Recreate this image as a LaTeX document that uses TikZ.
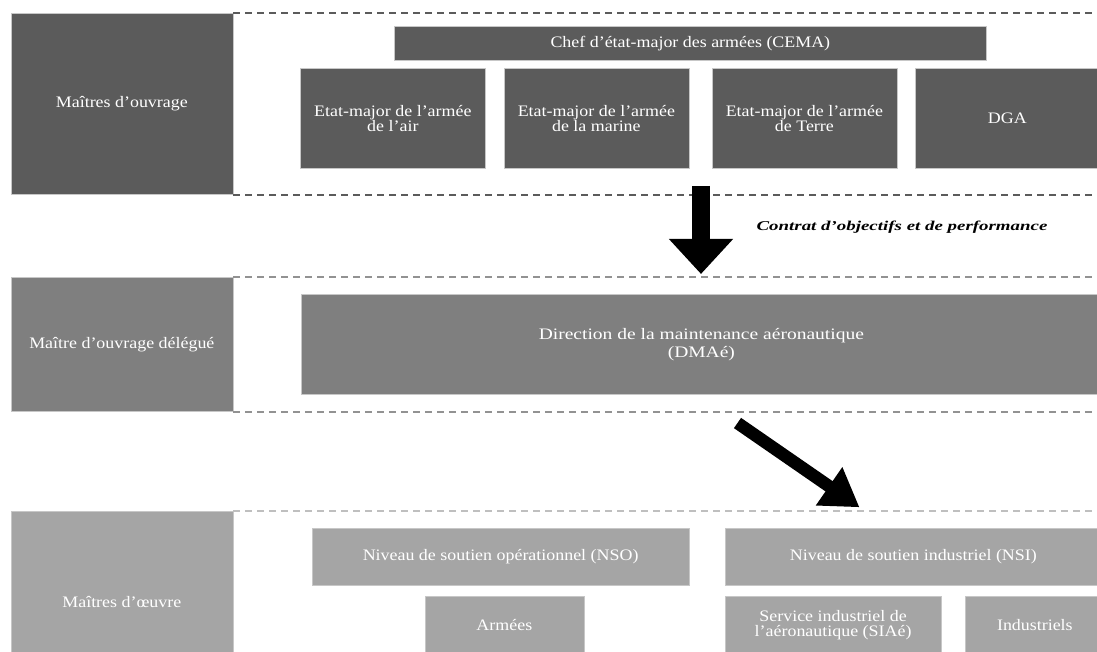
\documentclass[tikz,border=0pt]{standalone}
\usepackage{fontspec}
\setmainfont{Liberation Serif}[FakeStretch=1.12]
\newfontfamily\copfont{Liberation Serif}[FakeStretch=1.4]
\newfontfamily\widefont{Liberation Serif}[FakeStretch=1.22]
\usetikzlibrary{arrows.meta}
\definecolor{topgray}{HTML}{5B5B5B}
\definecolor{midgray}{HTML}{7F7F7F}
\definecolor{lowgray}{HTML}{A5A5A5}

\begin{document}
\begin{tikzpicture}[
  x=1pt,y=-1pt,
  font=\fontsize{16}{15}\selectfont,
  level/.style={draw=white!78!black,line width=0.7pt,text=white,align=center,inner sep=0pt,anchor=north west},
  topbox/.style={level,fill=topgray},
  midbox/.style={level,fill=midgray},
  lowbox/.style={level,fill=lowgray},
  topsep/.style={dash pattern=on 7pt off 5pt,line width=2pt,topgray},
  midsep/.style={dash pattern=on 6.5pt off 5.5pt,line width=2pt,midgray!85!white},
  lowsep/.style={dash pattern=on 6.5pt off 5.5pt,line width=1.5pt,white!75!black},
  bigarrow/.style={line width=17.7pt,black,-{Triangle[length=35pt,width=62pt]}},
  diagarrow/.style={line width=12.5pt,black,-{Triangle[length=37pt,width=44pt]}},
  contrat/.style={font=\copfont\fontsize{13.5}{13.5}\selectfont\bfseries\itshape}
]
\useasboundingbox (0,0) rectangle (1097,652);
\clip (0,0) rectangle (1097,652);

\node[topbox,minimum width=222pt,minimum height=181pt] (mo) at (10.5,13) {Maîtres d’ouvrage};
\node[topbox,minimum width=592pt,minimum height=34pt] (cema) at (394,26) {Chef d’état-major des armées (CEMA)};
\node[topbox,minimum width=185pt,minimum height=100pt] (air) at (300,68) {Etat-major de l’armée\\de l’air};
\node[topbox,minimum width=185pt,minimum height=100pt] (marine) at (503.5,68) {Etat-major de l’armée\\de la marine};
\node[topbox,minimum width=185pt,minimum height=100pt] (terre) at (711.5,68) {Etat-major de l’armée\\de Terre};
\node[topbox,minimum width=185pt,minimum height=100pt] (dga) at (914.5,68) {DGA};

\node[midbox,minimum width=222pt,minimum height=134pt] (mod) at (10.5,277) {Maître d’ouvrage délégué};
\node[midbox,minimum width=800pt,minimum height=100pt,font=\widefont\fontsize{16}{18}\selectfont] (dmae) at (301,294) {Direction de la maintenance aéronautique\\(DMAé)};

\node[lowbox,minimum width=222pt,minimum height=181pt] (moe) at (10.5,511) {Maîtres d’œuvre};
\node[lowbox,minimum width=376.5pt,minimum height=57pt] (nso) at (312,528) {Niveau de soutien opérationnel (NSO)};
\node[lowbox,minimum width=376pt,minimum height=57pt] (nsi) at (725,528) {Niveau de soutien industriel (NSI)};
\node[lowbox,minimum width=159pt,minimum height=57pt] (armees) at (424.5,596) {Armées};
\node[lowbox,minimum width=215.5pt,minimum height=57pt] (siae) at (725,596) {Service industriel de\\l’aéronautique (SIAé)};
\node[lowbox,minimum width=140pt,minimum height=57pt] (indus) at (964.5,596) {Industriels};

\draw[topsep] (mo.north east) -- ++(866,0);
\draw[topsep] (mo.south east) -- ++(866,0);
\draw[midsep] (mod.north east) -- ++(866,0);
\draw[midsep] (mod.south east) -- ++(866,0);
\draw[lowsep] (moe.north east) -- ++(866,0);

\coordinate (cop start) at (701,186);
\coordinate (cop end) at (701,274);
\draw[bigarrow] (cop start) -- (cop end);
\node[contrat] (cop) at (902,227) {Contrat d’objectifs et de performance};

\coordinate (del start) at (737.5,423);
\coordinate (del end) at (859.5,507.3);
\draw[diagarrow] (del start) -- (del end);
\end{tikzpicture}
\end{document}
